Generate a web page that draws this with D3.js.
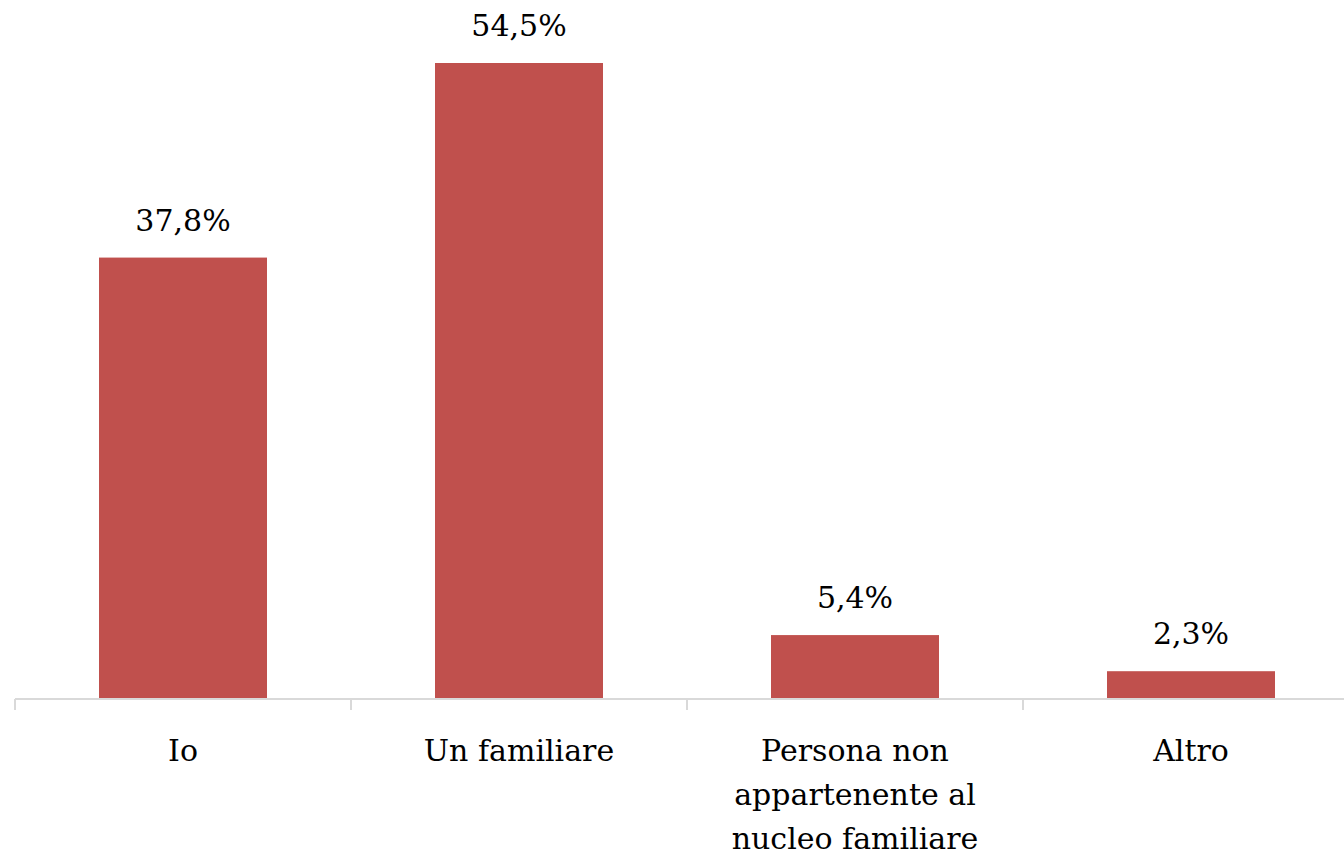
<!DOCTYPE html>
<html><head><meta charset="utf-8">
<script src="https://cdn.jsdelivr.net/npm/d3@7"></script>
<style>html,body{margin:0;padding:0;background:#fff;overflow:hidden}</style>
</head><body>
<svg id="c" width="1344" height="857"></svg>
<script>
const categories = [["Io"], ["Un familiare"], ["Persona non", "appartenente al", "nucleo familiare"], ["Altro"]];
const values = [37.8, 54.5, 5.4, 2.3];
const labels = ["37,8%", "54,5%", "5,4%", "2,3%"];

const svg = d3.select("#c");
const font = "'DejaVu Serif', serif";
const x0 = 15, x1 = 15 + 4 * 336, yBase = 698, yTop = 63;
const x = d3.scaleBand().domain(d3.range(values.length)).range([x0, x1]).paddingInner(0.5).paddingOuter(0.25);
const y = d3.scaleLinear().domain([0, 54.5]).range([yBase, yTop]);

svg.selectAll("rect.bar").data(values).enter().append("rect")
  .attr("x", (d, i) => x(i)).attr("width", x.bandwidth())
  .attr("y", d => y(d)).attr("height", d => yBase - y(d))
  .attr("fill", "#C0504D");

const band = d3.scaleBand().domain(d3.range(values.length)).range([x0, x1]);
const ax = svg.append("g").attr("transform", `translate(0,${yBase + 1})`);
ax.append("line").attr("x1", x0).attr("x2", x1).attr("stroke", "#D9D9D9").attr("stroke-width", 2);
const ticks = d3.range(values.length + 1).map(i => x0 + i * band.bandwidth());
ax.selectAll("line.t").data(ticks).enter().append("line")
  .attr("x1", d => d).attr("x2", d => d).attr("y1", 0).attr("y2", 11)
  .attr("stroke", "#D9D9D9").attr("stroke-width", 2);

svg.selectAll("text.val").data(values).enter().append("text")
  .attr("x", (d, i) => x(i) + x.bandwidth() / 2).attr("y", d => y(d) - 27)
  .attr("text-anchor", "middle").attr("font-family", font).attr("font-size", 30).attr("fill", "#000")
  .text((d, i) => labels[i]);

categories.forEach((lines, i) => {
  const t = svg.append("text").attr("text-anchor", "middle").attr("font-family", font)
    .attr("font-size", 30).attr("fill", "#000");
  lines.forEach((l, j) => t.append("tspan").attr("x", band(i) + band.bandwidth() / 2).attr("y", 761 + j * 44).text(l));
});
</script>
</body></html>
